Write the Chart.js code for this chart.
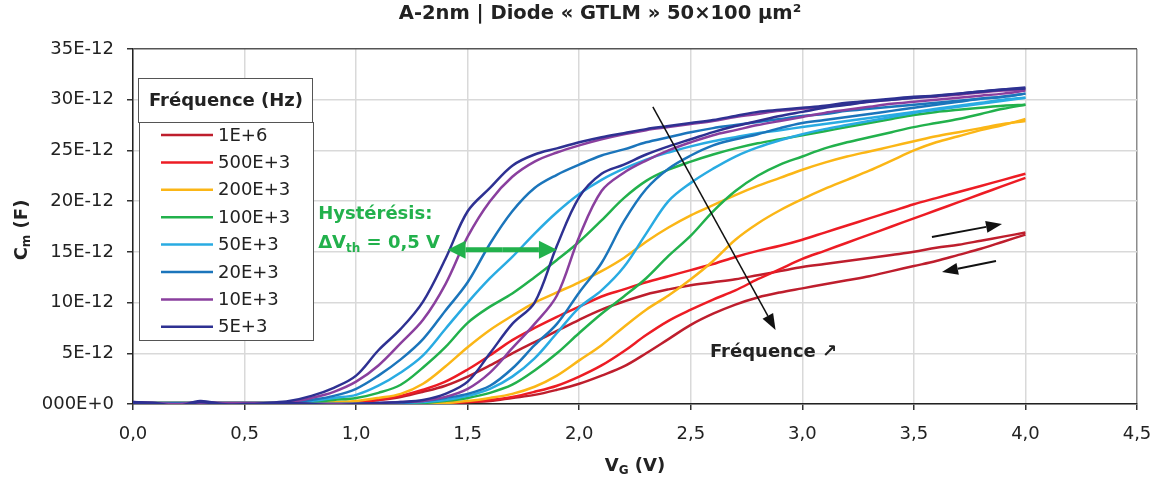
<!DOCTYPE html>
<html>
<head>
<meta charset="utf-8">
<script src="https://cdn.jsdelivr.net/npm/chart.js@4.4.1/dist/chart.umd.min.js"></script>
<style>
  html, body { margin: 0; padding: 0; background: #fff; }
  #wrap { width: 1160px; height: 483px; }
</style>
</head>
<body>
<div id="wrap"><canvas id="cv" width="1160" height="483"></canvas></div>
<script>
// gate voltage grid (V)
const vG = [0.0, 0.1, 0.2, 0.3, 0.4, 0.5, 0.6, 0.7, 0.8, 0.9,
            1.0, 1.1, 1.2, 1.3, 1.4, 1.5, 1.6, 1.7, 1.8, 1.9,
            2.0, 2.1, 2.2, 2.3, 2.4, 2.5, 2.6, 2.7, 2.8, 2.9,
            3.0, 3.1, 3.2, 3.3, 3.4, 3.5, 3.6, 3.7, 3.8, 3.9, 4.0];

// Cm in pF (E-12), reverse sweep (left branch) and forward sweep (right branch)
const cm1MRev = [0.1, 0.1, 0.1, 0.1, 0.1, 0.1, 0.1, 0.1, 0.1, 0.1,
                 0.2, 0.4, 0.7, 1.2, 1.8, 2.7, 3.8, 5.0, 6.1, 7.2,
                 8.3, 9.3, 10.1, 10.8, 11.3, 11.7, 12.0, 12.3, 12.7, 13.1,
                 13.5, 13.8, 14.1, 14.4, 14.7, 15.0, 15.4, 15.7, 16.1, 16.5, 16.9];
const cm1MFwd = [0.0, 0.0, 0.0, 0.0, 0.0, 0.0, 0.0, 0.0, 0.0, 0.0,
                 0.0, 0.0, 0.0, 0.1, 0.1, 0.2, 0.3, 0.6, 0.9, 1.4,
                 2.0, 2.8, 3.7, 5.0, 6.4, 7.8, 8.9, 9.8, 10.5, 11.0,
                 11.4, 11.8, 12.2, 12.6, 13.1, 13.6, 14.1, 14.7, 15.3, 16.0, 16.7];
const cm500kRev = [0.1, 0.1, 0.1, 0.1, 0.1, 0.1, 0.1, 0.1, 0.1, 0.1,
                   0.2, 0.4, 0.8, 1.4, 2.2, 3.4, 4.8, 6.3, 7.5, 8.6,
                   9.6, 10.6, 11.3, 12.0, 12.6, 13.2, 13.8, 14.5, 15.1, 15.6,
                   16.2, 16.9, 17.6, 18.3, 19.0, 19.7, 20.3, 20.9, 21.5, 22.1, 22.7];
const cm500kFwd = [0.0, 0.0, 0.0, 0.0, 0.0, 0.0, 0.0, 0.0, 0.0, 0.0,
                   0.0, 0.0, 0.0, 0.1, 0.1, 0.2, 0.4, 0.7, 1.2, 1.8,
                   2.7, 3.8, 5.2, 6.8, 8.2, 9.3, 10.3, 11.2, 12.3, 13.3,
                   14.3, 15.1, 15.9, 16.7, 17.5, 18.3, 19.1, 19.9, 20.7, 21.5, 22.3];
const cm200kRev = [0.1, 0.1, 0.1, 0.1, 0.1, 0.1, 0.1, 0.1, 0.1, 0.2,
                   0.3, 0.6, 1.0, 2.0, 3.7, 5.6, 7.3, 8.7, 10.0, 11.0,
                   12.0, 13.1, 14.4, 16.0, 17.4, 18.6, 19.6, 20.6, 21.5, 22.3,
                   23.1, 23.8, 24.4, 24.9, 25.4, 25.9, 26.4, 26.8, 27.2, 27.6, 27.9];
const cm200kFwd = [0.0, 0.0, 0.0, 0.0, 0.0, 0.0, 0.0, 0.0, 0.0, 0.0,
                   0.0, 0.0, 0.0, 0.1, 0.1, 0.3, 0.6, 1.0, 1.7, 2.8,
                   4.3, 5.8, 7.6, 9.3, 10.7, 12.3, 14.1, 16.2, 17.8, 19.1,
                   20.2, 21.2, 22.1, 23.0, 24.0, 25.0, 25.8, 26.4, 27.0, 27.5, 28.1];
const cm100kRev = [0.1, 0.1, 0.1, 0.1, 0.1, 0.1, 0.1, 0.1, 0.2, 0.4,
                   0.6, 1.1, 1.9, 3.6, 5.6, 8.0, 9.6, 10.9, 12.5, 14.2,
                   16.0, 18.1, 20.3, 22.0, 23.1, 23.9, 24.6, 25.2, 25.7, 26.1,
                   26.5, 26.9, 27.3, 27.7, 28.1, 28.5, 28.8, 29.0, 29.2, 29.4, 29.5];
const cm100kFwd = [0.0, 0.0, 0.0, 0.0, 0.0, 0.0, 0.0, 0.0, 0.0, 0.0,
                   0.0, 0.0, 0.1, 0.1, 0.3, 0.6, 1.1, 1.9, 3.3, 5.0,
                   7.0, 8.9, 10.6, 12.4, 14.6, 16.6, 19.0, 21.0, 22.5, 23.6,
                   24.4, 25.2, 25.8, 26.3, 26.8, 27.3, 27.7, 28.1, 28.6, 29.1, 29.5];
const cm50kRev = [0.1, 0.1, 0.1, 0.1, 0.1, 0.1, 0.1, 0.1, 0.3, 0.6,
                  0.9, 1.8, 3.1, 4.8, 7.4, 10.0, 12.4, 14.5, 16.8, 18.9,
                  20.7, 22.1, 23.2, 24.1, 24.8, 25.4, 25.9, 26.3, 26.7, 27.0,
                  27.3, 27.6, 27.9, 28.2, 28.5, 28.8, 29.1, 29.4, 29.7, 30.0, 30.2];
const cm50kFwd = [0.0, 0.0, 0.0, 0.0, 0.0, 0.0, 0.0, 0.0, 0.0, 0.0,
                  0.0, 0.0, 0.1, 0.2, 0.4, 0.8, 1.5, 2.7, 4.5, 7.0,
                  9.5, 11.2, 13.5, 16.8, 20.0, 21.8, 23.2, 24.4, 25.3, 26.0,
                  26.6, 27.1, 27.5, 27.9, 28.3, 28.7, 29.0, 29.3, 29.6, 29.9, 30.2];
const cm20kRev = [0.1, 0.1, 0.1, 0.1, 0.1, 0.1, 0.1, 0.1, 0.4, 0.8,
                  1.5, 2.8, 4.4, 6.4, 9.2, 12.0, 15.8, 19.0, 21.3, 22.6,
                  23.6, 24.5, 25.1, 25.8, 26.3, 26.8, 27.2, 27.5, 27.8, 28.1,
                  28.4, 28.6, 28.9, 29.1, 29.3, 29.5, 29.7, 29.9, 30.1, 30.3, 30.6];
const cm20kFwd = [0.0, 0.0, 0.0, 0.0, 0.0, 0.0, 0.0, 0.0, 0.0, 0.0,
                  0.0, 0.1, 0.1, 0.3, 0.6, 1.0, 1.8, 3.5, 5.8, 7.9,
                  11.0, 13.9, 18.0, 21.2, 23.2, 24.5, 25.5, 26.1, 26.6, 27.2,
                  27.7, 28.0, 28.3, 28.6, 28.9, 29.2, 29.5, 29.8, 30.1, 30.3, 30.6];
const cm10kRev = [0.2, 0.1, 0.0, 0.2, 0.1, 0.1, 0.1, 0.2, 0.6, 1.2,
                  2.2, 3.8, 6.0, 8.3, 11.8, 16.5, 20.0, 22.4, 23.9, 24.8,
                  25.5, 26.1, 26.6, 27.0, 27.3, 27.6, 27.9, 28.3, 28.6, 28.9,
                  29.1, 29.3, 29.6, 29.8, 30.0, 30.2, 30.3, 30.5, 30.7, 30.9, 31.0];
const cm10kFwd = [0.1, 0.0, -0.1, 0.1, 0.0, 0.0, 0.0, 0.1, 0.0, 0.0,
                  0.0, 0.1, 0.2, 0.3, 0.7, 1.5, 3.1, 5.5, 7.9, 10.7,
                  16.5, 21.0, 22.8, 24.0, 25.0, 25.8, 26.5, 27.0, 27.5, 27.9,
                  28.3, 28.7, 29.0, 29.3, 29.6, 29.8, 30.0, 30.2, 30.4, 30.6, 30.9];
const cm5kRev = [0.2, 0.1, -0.2, 0.3, 0.0, -0.1, 0.1, 0.3, 0.8, 1.6,
                 2.8, 5.3, 7.4, 10.1, 14.3, 19.0, 21.3, 23.5, 24.6, 25.2,
                 25.8, 26.3, 26.7, 27.1, 27.4, 27.7, 28.0, 28.4, 28.8, 29.0,
                 29.2, 29.4, 29.7, 29.9, 30.1, 30.3, 30.4, 30.6, 30.8, 31.0, 31.2];
const cm5kFwd = [0.1, 0.0, -0.3, 0.2, -0.1, 0.0, 0.0, 0.1, 0.0, -0.1,
                 0.0, 0.1, 0.2, 0.4, 1.0, 2.2, 5.0, 7.9, 10.0, 15.6,
                 20.4, 22.7, 23.6, 24.6, 25.4, 26.1, 26.8, 27.4, 27.9, 28.4,
                 28.8, 29.2, 29.5, 29.8, 30.0, 30.2, 30.4, 30.6, 30.8, 31.0, 31.1];

const freqLabels = ["1E+6", "500E+3", "200E+3", "100E+3", "50E+3", "20E+3", "10E+3", "5E+3"];
const freqColors = ["#be1e2d", "#ed1c24", "#fbb616", "#22b14c", "#29abe2", "#1b75bb", "#8a3f9e", "#2e3192"];
const curves = [
  [cm1MRev, cm1MFwd], [cm500kRev, cm500kFwd], [cm200kRev, cm200kFwd], [cm100kRev, cm100kFwd],
  [cm50kRev, cm50kFwd], [cm20kRev, cm20kFwd], [cm10kRev, cm10kFwd], [cm5kRev, cm5kFwd]
];
const xTicks = [0, 0.5, 1, 1.5, 2, 2.5, 3, 3.5, 4, 4.5];
const yTicks = [0, 5, 10, 15, 20, 25, 30, 35];

const FONT = "'DejaVu Sans', Verdana, sans-serif";

const datasets = [];
curves.forEach((pair, fi) => {
  pair.forEach((vals, k) => {
    datasets.push({
      label: freqLabels[fi] + (k === 0 ? " rev" : " fwd"),
      data: vals.map((c, i) => ({ x: vG[i], y: c })),
      borderColor: freqColors[fi],
      borderWidth: 2.5,
      pointRadius: 0,
      tension: 0.35,
      fill: false,
      order: 100 - (fi * 2 + k),
    });
  });
});

function arrow(ctx, x1, y1, x2, y2, headLen, headW) {
  const a = Math.atan2(y2 - y1, x2 - x1);
  const bx = x2 - headLen * Math.cos(a);
  const by = y2 - headLen * Math.sin(a);
  ctx.beginPath();
  ctx.moveTo(x1, y1);
  ctx.lineTo(bx, by);
  ctx.stroke();
  ctx.beginPath();
  ctx.moveTo(x2, y2);
  ctx.lineTo(bx + headW / 2 * Math.sin(a), by - headW / 2 * Math.cos(a));
  ctx.lineTo(bx - headW / 2 * Math.sin(a), by + headW / 2 * Math.cos(a));
  ctx.closePath();
  ctx.fill();
}

function subText(ctx, parts, x, y, align) {
  // parts: [text, isSub]
  const widths = parts.map((p) => {
    ctx.font = p[1] ? "bold 12px " + FONT : "bold 18px " + FONT;
    return ctx.measureText(p[0]).width;
  });
  const total = widths.reduce((a, b) => a + b, 0);
  let cx = align === "center" ? x - total / 2 : x;
  parts.forEach((p, i) => {
    ctx.font = p[1] ? "bold 12px " + FONT : "bold 18px " + FONT;
    ctx.textAlign = "left";
    ctx.fillText(p[0], cx, p[1] ? y + 5 : y);
    cx += widths[i];
  });
}

const decor = {
  id: "decor",
  afterDatasetsDraw(chart) {
    const ctx = chart.ctx;
    const xs = chart.scales.x, ys = chart.scales.y;
    const px = (v) => xs.getPixelForValue(v);
    const py = (c) => ys.getPixelForValue(c);
    ctx.save();

    // legend
    ctx.fillStyle = "#fff";
    ctx.strokeStyle = "#555";
    ctx.lineWidth = 1;
    ctx.fillRect(139, 122, 174, 218);
    ctx.strokeRect(139.5, 122.5, 174, 218);
    ctx.fillRect(138, 78, 174, 44);
    ctx.strokeRect(138.5, 78.5, 174, 44);
    ctx.fillStyle = "#222";
    ctx.font = "bold 18px " + FONT;
    ctx.textAlign = "center";
    ctx.textBaseline = "middle";
    ctx.fillText("Fréquence (Hz)", 226, 101);
    ctx.font = "18px " + FONT;
    ctx.textAlign = "left";
    freqLabels.forEach((lab, i) => {
      const y = 135 + i * 27.4;
      ctx.strokeStyle = freqColors[i];
      ctx.lineWidth = 2.5;
      ctx.beginPath();
      ctx.moveTo(161, y);
      ctx.lineTo(213, y);
      ctx.stroke();
      ctx.fillStyle = "#222";
      ctx.fillText(lab, 218, y + 1);
    });

    // hysteresis arrow
    ctx.strokeStyle = "#22b14c";
    ctx.fillStyle = "#22b14c";
    ctx.lineWidth = 5;
    const ha = px(1.41), hb = px(1.90), hy = py(15.2), hm = (ha + hb) / 2;
    arrow(ctx, hm, hy, ha, hy, 18, 18);
    arrow(ctx, hm, hy, hb, hy, 18, 18);
    ctx.textBaseline = "middle";
    ctx.font = "bold 18px " + FONT;
    ctx.fillText("Hystérésis:", px(0.83), py(18.7));
    subText(ctx, [["ΔV", false], ["th", true], [" = 0,5 V", false]], px(0.83), py(15.8), "left");

    // frequency arrow
    ctx.strokeStyle = "#111";
    ctx.fillStyle = "#111";
    ctx.lineWidth = 1.5;
    arrow(ctx, px(2.33), py(29.3), px(2.88), py(7.3), 16, 12);
    ctx.fillStyle = "#222";
    ctx.font = "bold 18px " + FONT;
    ctx.textAlign = "left";
    ctx.fillText("Fréquence ↗", px(2.586), py(5.1));

    // sweep direction arrows
    ctx.strokeStyle = "#111";
    ctx.fillStyle = "#111";
    ctx.lineWidth = 2;
    arrow(ctx, px(3.581), py(16.47), px(3.895), py(17.75), 16, 12);
    arrow(ctx, px(3.868), py(14.10), px(3.626), py(13.02), 16, 12);

    // titles
    ctx.fillStyle = "#222";
    ctx.textAlign = "center";
    ctx.textBaseline = "middle";
    ctx.font = "bold 19.5px " + FONT;
    ctx.fillText("A-2nm | Diode « GTLM » 50×100 µm²", 600, 14);
    subText(ctx, [["V", false], ["G", true], [" (V)", false]], (xs.left + xs.right) / 2, 466, "center");
    ctx.save();
    ctx.translate(22, 230);
    ctx.rotate(-Math.PI / 2);
    subText(ctx, [["C", false], ["m", true], [" (F)", false]], 0, 0, "center");
    ctx.restore();

    ctx.restore();
  },
};

new Chart(document.getElementById("cv"), {
  type: "line",
  data: { datasets },
  options: {
    responsive: false,
    animation: false,
    layout: { padding: { top: 49, right: 23, left: 0, bottom: 0 } },
    plugins: { legend: { display: false }, tooltip: { enabled: false }, title: { display: false } },
    scales: {
      x: {
        type: "linear",
        min: 0,
        max: 4.5,
        afterBuildTicks: (s) => { s.ticks = xTicks.map((v) => ({ value: v })); },
        afterFit: (s) => { s.height = 79; s.paddingRight = 10; s.paddingLeft = 0; },
        ticks: {
          callback: (v) => v.toFixed(1).replace(".", ","),
          font: { family: FONT, size: 18 },
          color: "#222",
          padding: 14,
          maxRotation: 0,
        },
        grid: {
          color: (c) => (c.tick && c.tick.value === 4.5 ? "#8c8c8c" : "#d9d9d9"),
          lineWidth: 1.5,
          tickLength: 6,
          tickColor: "#333",
        },
        border: { color: "#222", width: 1.5 },
      },
      y: {
        min: 0,
        max: 35,
        afterBuildTicks: (s) => { s.ticks = yTicks.map((v) => ({ value: v })); },
        afterFit: (s) => { s.width = 133; },
        ticks: {
          callback: (v) => (v === 0 ? "000E+0" : v + "E-12"),
          font: { family: FONT, size: 18 },
          color: "#222",
          padding: 13,
        },
        grid: {
          color: (c) => (c.tick && c.tick.value === 35 ? "#555" : "#d9d9d9"),
          lineWidth: 1.5,
          tickLength: 6,
          tickColor: "#333",
        },
        border: { color: "#222", width: 1.5 },
      },
    },
  },
  plugins: [decor],
});
</script>
</body>
</html>
